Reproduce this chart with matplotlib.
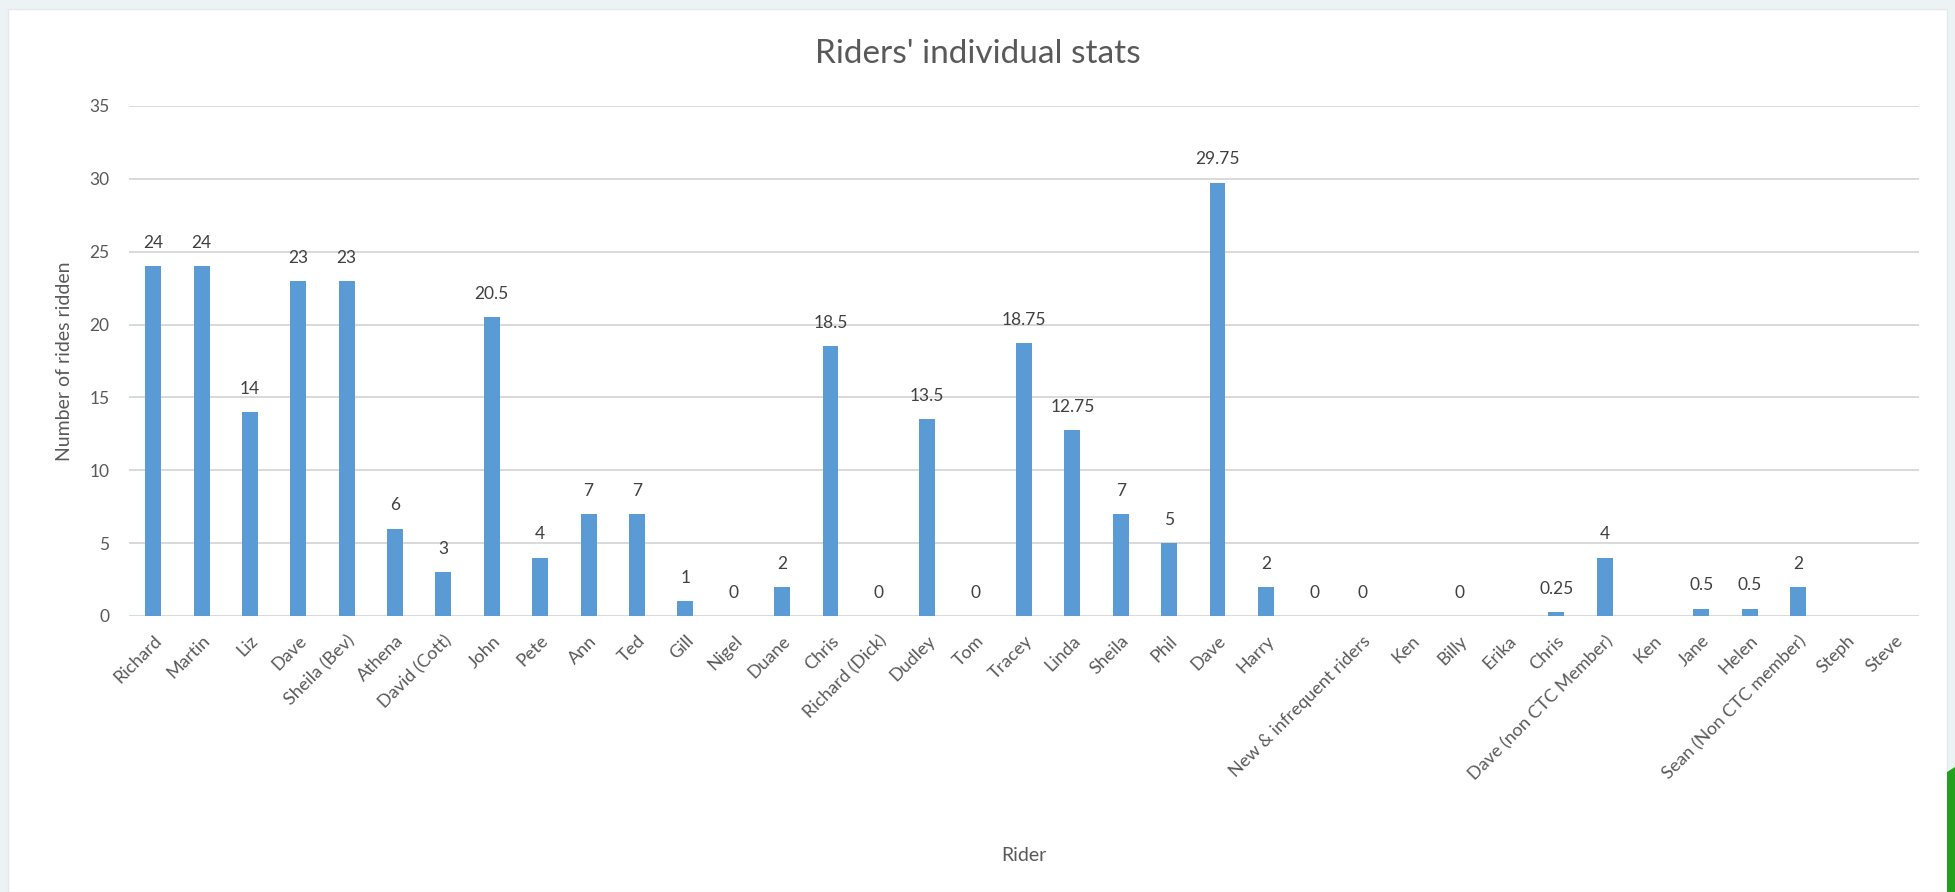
import numpy as np
import matplotlib
matplotlib.use("Agg")
import matplotlib.pyplot as plt
from matplotlib.patches import Rectangle, Polygon

riders = [
    "Richard", "Martin", "Liz", "Dave", "Sheila (Bev)", "Athena",
    "David (Cott)", "John", "Pete", "Ann", "Ted", "Gill", "Nigel", "Duane",
    "Chris", "Richard (Dick)", "Dudley", "Tom", "Tracey", "Linda", "Sheila",
    "Phil", "Dave", "Harry", "", "New & infrequent riders", "Ken", "Billy",
    "Erika", "Chris", "Dave (non CTC Member)", "Ken", "Jane", "Helen",
    "Sean (Non CTC member)", "Steph", "Steve",
]
rides = [
    24, 24, 14, 23, 23, 6,
    3, 20.5, 4, 7, 7, 1, 0, 2,
    18.5, 0, 13.5, 0, 18.75, 12.75, 7,
    5, 29.75, 2, 0, 0, np.nan, 0,
    np.nan, 0.25, 4, np.nan, 0.5, 0.5,
    2, np.nan, np.nan,
]

BAR = "#5B9BD5"
TXT = "#595959"
GRID = "#D9D9D9"

plt.rcParams["font.family"] = ["Lato", "DejaVu Sans"]

fig = plt.figure(figsize=(19.55, 8.92), dpi=100)
fig.patch.set_facecolor("#EDF3F4")
# white chart panel inside the screenshot frame
fig.patches.append(Rectangle((8 / 1955, 0), 1939 / 1955, 1 - 9 / 892,
                             transform=fig.transFigure, facecolor="white",
                             edgecolor="#E3E8EA", lw=1, zorder=-2))
fig.patches.append(Polygon([(1947 / 1955, 0), (1947 / 1955, 120 / 892),
                            (1955 / 1955, 125 / 892), (1, 0)],
                           closed=True, transform=fig.transFigure,
                           facecolor="#22A01E", edgecolor="none", zorder=-2))

ax = fig.add_axes([129 / 1955, 1 - 616 / 892, 1790 / 1955, 510 / 892])
ax.set_facecolor("none")

x = np.arange(len(riders))
vals = np.array(rides, dtype=float)
ax.bar(x, np.nan_to_num(vals), width=0.33, color=BAR, zorder=3)

for xi, v in zip(x, vals):
    if np.isnan(v):
        continue
    ax.annotate(f"{v:g}", (xi, v), xytext=(0, 11), textcoords="offset points",
                ha="center", va="bottom", fontsize=12.5, color="#404040")

ax.set_xlim(-0.5, len(riders) - 0.5)
ax.set_ylim(0, 35)
ax.set_yticks(np.arange(0, 36, 5))
ax.yaxis.grid(True, color=GRID, lw=1.4, zorder=0)
for s in ax.spines.values():
    s.set_visible(False)
ax.tick_params(axis="both", length=0, colors=TXT, labelsize=12.5)
ax.tick_params(axis="y", pad=14)
ax.set_xticks(x)
ax.set_xticklabels(riders, rotation=45, ha="right", rotation_mode="anchor",
                   fontsize=13)
ax.tick_params(axis="x", pad=12)

fig.text(0.5, 1 - 54 / 892, "Riders' individual stats", fontsize=24,
         color=TXT, ha="center", va="center")
ax.set_xlabel("Rider", fontsize=14, color=TXT, labelpad=46)
ax.set_ylabel("Number of rides ridden", fontsize=14, color=TXT, labelpad=12)

plt.savefig("out.png", dpi=100)
